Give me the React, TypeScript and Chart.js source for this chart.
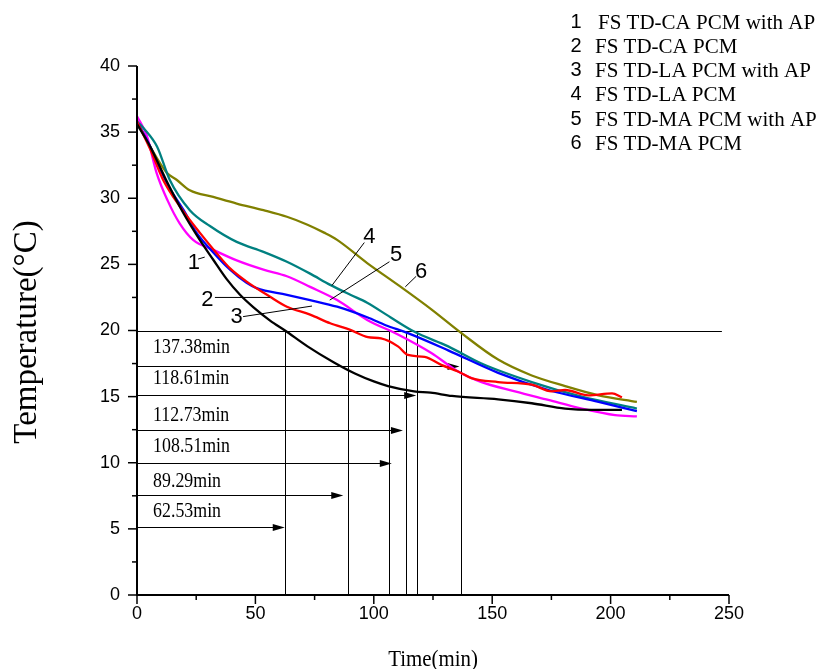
import React, { useEffect, useRef } from 'react';
import { Chart, registerables } from 'chart.js';

Chart.register(...registerables);

const SERIF = '"Liberation Serif", "Times New Roman", serif';
const SANS = '"Liberation Sans", Arial, sans-serif';

// ---- series data (time in min, temperature in °C) ----
const s1Time = [0, 5.6, 12.5, 19.5, 26.5, 32.2, 37.8, 43.5, 49.2, 56.2, 62.5, 72, 83, 92, 100, 106, 117, 124, 133, 152.5, 166.7, 180.8, 192, 204.8];
const s1Temp = [35.6, 33.9, 31.3, 28.9, 26.85, 25.35, 23.9, 22.7, 21.75, 20.75, 20.0, 18.8, 17.6, 16.75, 16.15, 15.8, 15.4, 15.3, 15.05, 14.8, 14.5, 14.1, 14.0, 14.0];

const s2Time = [0, 5.6, 11, 18, 26.5, 33.6, 39.3, 46.3, 56.2, 63.3, 73.1, 81.6, 90.1, 97.5, 103.1, 110.2, 114.4, 121.5, 128.5, 135.6, 141.2, 152.5, 166.7, 175.1, 180.8, 190.6, 200.6, 204.8];
const s2Temp = [35.8, 33.7, 31.4, 29.4, 27.4, 25.85, 24.7, 23.7, 22.55, 21.8, 21.2, 20.55, 20.05, 19.5, 19.4, 18.8, 18.15, 18.0, 17.4, 16.9, 16.4, 16.1, 15.9, 15.4, 15.5, 15.1, 15.25, 14.95];

const s3Time = [0, 5.6, 12.7, 19.7, 25.1, 32.5, 39.3, 46.3, 50.5, 63.3, 73.1, 84.5, 97.2, 105, 114.4, 131.4, 152.5, 173.7, 194.9, 211.1];
const s3Temp = [35.8, 33.9, 31.1, 29.1, 27.4, 25.85, 24.6, 23.6, 23.2, 22.7, 22.3, 21.8, 21.0, 20.4, 19.8, 18.5, 16.8, 15.5, 14.6, 13.9];

const s4Time = [0, 2.8, 8.5, 13.8, 22.3, 30.8, 42.1, 53.4, 63.3, 73.1, 81.6, 90.1, 97.2, 107, 117.2, 131.4, 145.5, 166.7, 187.8, 211.1];
const s4Temp = [35.8, 35.3, 33.9, 31.4, 29.1, 27.9, 26.7, 25.95, 25.2, 24.3, 23.45, 22.7, 22.1, 21.0, 19.9, 18.8, 17.5, 16.1, 15.0, 14.1];

const s5Time = [0, 4.2, 8.3, 13, 18, 23.7, 32.2, 42.1, 53.4, 63.3, 73.1, 84.5, 97.2, 110.2, 124.3, 135.6, 145.5, 159.6, 173.7, 187.8, 201.9, 211.1];
const s5Temp = [36.2, 34.7, 31.9, 29.8, 28.1, 26.85, 26.1, 25.3, 24.6, 24.1, 23.3, 22.3, 20.8, 19.7, 18.3, 16.9, 16.1, 15.4, 14.75, 14.1, 13.6, 13.5];

const s6Time = [0, 5.6, 12.7, 16.7, 22.3, 32.2, 42.1, 53.4, 63.3, 72, 79, 84.5, 97.2, 110.2, 124.3, 137, 152.5, 166.7, 180.8, 194.9, 211.1];
const s6Temp = [35.8, 33.9, 31.9, 31.4, 30.6, 30.1, 29.6, 29.1, 28.6, 28.0, 27.4, 26.85, 25.1, 23.45, 21.6, 19.8, 17.8, 16.6, 15.8, 15.1, 14.6];

const seriesNumbers = ['1', '2', '3', '4', '5', '6'];
const seriesNames = [
  'FS TD-CA PCM with AP',
  'FS TD-CA PCM',
  'FS TD-LA PCM with AP',
  'FS TD-LA PCM',
  'FS TD-MA PCM with AP',
  'FS TD-MA PCM',
];
const seriesColors = ['#000000', '#ff0000', '#0000ff', '#008080', '#ff00ff', '#808000'];
const seriesTimes = [s1Time, s2Time, s3Time, s4Time, s5Time, s6Time];
const seriesTemps = [s1Temp, s2Temp, s3Temp, s4Temp, s5Temp, s6Temp];

// ---- axes ----
const xMin = 0, xMax = 250, xStep = 50, xMinorStep = 25;
const yMin = 0, yMax = 40, yStep = 5, yMinorStep = 2.5;
const xTitle = 'Time(min)';
const yTitle = 'Temperature(°C)';

// ---- annotations ----
const thresholdTemp = 20;
const thresholdEnd = 247;
const crossingTimes = [62.53, 89.29, 106.6, 113.6, 118.3, 136.9];
const arrowLabels = ['137.38min', '118.61min', '112.73min', '108.51min', '89.29min', '62.53min'];
const arrowLevels = [17.3, 15.1, 12.5, 10.0, 7.55, 5.15];
const arrowEnds = [136.2, 117.9, 112.3, 107.6, 87.1, 62.4];
const arrowLabelLevels = [18.7, 16.4, 13.6, 11.2, 8.6, 6.3];
const arrowLabelStart = 6.8;

const calloutX = [24.0, 29.7, 42.1, 98.1, 109.4, 120.0];
const calloutY = [25.1, 22.3, 21.05, 27.1, 25.7, 24.45];
const leaderFromX = [25.8, 32.9, 44.8, 82.3, 81.4, 113.3];
const leaderFromY = [25.4, 22.5, 21.05, 23.4, 22.3, 23.3];
const leaderToX = [28.6, 56.2, 73.9, 96.0, 106.6, 117.9];
const leaderToY = [25.55, 22.5, 21.85, 26.65, 25.2, 24.1];

const decorPlugin = {
  id: 'decor',
  beforeDatasetsDraw(chart: any) {
    const { ctx, scales } = chart;
    const xs = scales.x, ys = scales.y;
    const px = (v: number) => xs.getPixelForValue(v);
    const py = (v: number) => ys.getPixelForValue(v);
    ctx.save();
    ctx.strokeStyle = '#000';
    ctx.fillStyle = '#000';
    ctx.lineWidth = 1;
    const seg = (x1: number, y1: number, x2: number, y2: number) => {
      ctx.beginPath();
      ctx.moveTo(x1, y1);
      ctx.lineTo(x2, y2);
      ctx.stroke();
    };
    const y20 = Math.round(py(thresholdTemp)) + 0.5;
    seg(px(xMin), y20, px(thresholdEnd), y20);
    crossingTimes.forEach((t) => {
      const X = Math.round(px(t)) + 0.5;
      seg(X, py(yMin), X, y20);
    });
    arrowLevels.forEach((lv, i) => {
      const Y = Math.round(py(lv)) + 0.5;
      const xe = px(arrowEnds[i]);
      seg(px(xMin), Y, xe - 4, Y);
      ctx.beginPath();
      ctx.moveTo(xe, Y);
      ctx.lineTo(xe - 12, Y - 3.5);
      ctx.lineTo(xe - 12, Y + 3.5);
      ctx.closePath();
      ctx.fill();
      ctx.save();
      ctx.translate(px(arrowLabelStart), py(arrowLabelLevels[i]));
      ctx.scale(0.85, 1);
      ctx.font = `21px ${SERIF}`;
      ctx.textAlign = 'left';
      ctx.textBaseline = 'middle';
      ctx.fillText(arrowLabels[i], 0, 0);
      ctx.restore();
    });
    ctx.restore();
  },
  afterDraw(chart: any) {
    const { ctx, scales, chartArea } = chart;
    const xs = scales.x, ys = scales.y;
    const px = (v: number) => xs.getPixelForValue(v);
    const py = (v: number) => ys.getPixelForValue(v);
    ctx.save();
    ctx.strokeStyle = '#000';
    ctx.fillStyle = '#000';
    const seg = (x1: number, y1: number, x2: number, y2: number) => {
      ctx.beginPath();
      ctx.moveTo(x1, y1);
      ctx.lineTo(x2, y2);
      ctx.stroke();
    };
    // axis lines
    ctx.lineWidth = 2;
    const L = chartArea.left, B = chartArea.bottom;
    seg(L, chartArea.top, L, B + 1);
    seg(L - 1, B, chartArea.right, B);
    // ticks
    ctx.lineWidth = 1.5;
    for (let v = yMin; v <= yMax + 1e-6; v += yMinorStep) {
      const major = Math.abs(v / yStep - Math.round(v / yStep)) < 1e-6;
      const Y = py(v);
      seg(L, Y, L - (major ? 9 : 5), Y);
    }
    for (let v = xMin; v <= xMax + 1e-6; v += xMinorStep) {
      const major = Math.abs(v / xStep - Math.round(v / xStep)) < 1e-6;
      const X = px(v);
      seg(X, B, X, B + (major ? 9 : 5));
    }
    // callout leaders & labels
    ctx.lineWidth = 1;
    calloutX.forEach((cx, i) => {
      seg(px(leaderFromX[i]), py(leaderFromY[i]), px(leaderToX[i]), py(leaderToY[i]));
      ctx.font = `22px ${SANS}`;
      ctx.textAlign = 'center';
      ctx.textBaseline = 'middle';
      ctx.fillText(seriesNumbers[i], px(cx), py(calloutY[i]));
    });
    // axis titles
    ctx.save();
    ctx.translate((L + chartArea.right) / 2, 666);
    ctx.scale(0.87, 1);
    ctx.font = `24px ${SERIF}`;
    ctx.textAlign = 'center';
    ctx.textBaseline = 'alphabetic';
    ctx.fillText(xTitle, 0, 0);
    ctx.restore();

    ctx.save();
    ctx.translate(36, 332);
    ctx.rotate(-Math.PI / 2);
    ctx.font = `33px ${SERIF}`;
    ctx.textAlign = 'center';
    ctx.textBaseline = 'alphabetic';
    ctx.fillText(yTitle, 0, 0);
    ctx.restore();

    // legend (text only)
    seriesNames.forEach((name, i) => {
      const Y = 22 + i * 24.3;
      ctx.font = `20px ${SANS}`;
      ctx.textAlign = 'center';
      ctx.textBaseline = 'middle';
      ctx.fillText(seriesNumbers[i], 576, Y);
      ctx.font = `21px ${SERIF}`;
      ctx.textAlign = 'left';
      ctx.fillText(name, i === 0 ? 598 : 595, Y + 1);
    });
    ctx.restore();
  },
};

export default function App() {
  const canvasRef = useRef<HTMLCanvasElement | null>(null);

  useEffect(() => {
    const canvas = canvasRef.current;
    if (!canvas) return;
    const chart = new Chart(canvas, {
      type: 'line',
      data: {
        datasets: seriesNames.map((name, i) => ({
          label: name,
          data: seriesTimes[i].map((t, j) => ({ x: t, y: seriesTemps[i][j] })),
          borderColor: seriesColors[i],
          backgroundColor: seriesColors[i],
          borderWidth: 2.3,
          pointRadius: 0,
          fill: false,
          cubicInterpolationMode: 'monotone' as const,
        })),
      },
      options: {
        animation: false,
        responsive: false,
        devicePixelRatio: 1,
        layout: { padding: { top: 66, right: 97, left: 0, bottom: 0 } },
        plugins: { legend: { display: false }, tooltip: { enabled: false } },
        scales: {
          x: {
            type: 'linear',
            min: xMin,
            max: xMax,
            grid: { display: false, drawTicks: false },
            border: { display: false },
            ticks: {
              stepSize: xStep,
              color: '#000',
              padding: 8,
              font: { family: SANS, size: 18 },
              maxRotation: 0,
            },
            afterFit: (s: any) => {
              s.height = 74;
            },
          },
          y: {
            type: 'linear',
            min: yMin,
            max: yMax,
            grid: { display: false, drawTicks: false },
            border: { display: false },
            ticks: {
              stepSize: yStep,
              color: '#000',
              padding: 17,
              font: { family: SANS, size: 18 },
            },
            afterFit: (s: any) => {
              s.width = 137;
            },
          },
        },
      },
      plugins: [decorPlugin],
    });
    return () => chart.destroy();
  }, []);

  return (
    <div style={{ position: 'absolute', left: 0, top: 0, width: 826, height: 669, background: '#fff' }}>
      <canvas ref={canvasRef} width={826} height={669} style={{ width: 826, height: 669, display: 'block' }} />
    </div>
  );
}
